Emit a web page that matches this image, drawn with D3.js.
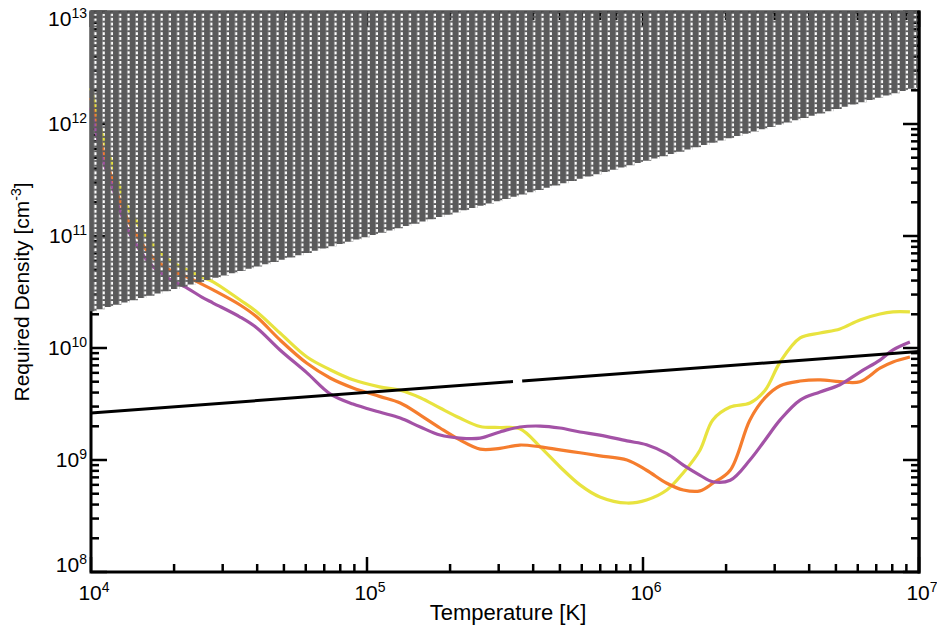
<!DOCTYPE html>
<html>
<head>
<meta charset="utf-8">
<script src="https://cdn.jsdelivr.net/npm/d3@7"></script>
<style>
  body { margin: 0; background: #fff; }
  text { font-family: "Liberation Sans", Arial, Helvetica, sans-serif; fill: #000; }
</style>
</head>
<body>
<svg id="chart"></svg>
<script>
// temperature grid shared by the three curves [K]
var temps = [1.0e4, 1.105e4, 1.19e4, 1.27e4, 1.36e4, 1.47e4, 1.57e4, 1.68e4, 1.81e4, 1.93e4,
  2.23e4, 2.52e4, 2.77e4, 3.47e4, 3.99e4, 4.84e4, 6.06e4, 7.35e4, 8.9e4, 1.11e5,
  1.32e5, 1.56e5, 1.84e5, 2.17e5, 2.57e5, 3.03e5, 3.58e5, 4.24e5, 5.0e5, 5.91e5,
  6.98e5, 8.75e5, 1.03e6, 1.22e6, 1.40e6, 1.61e6, 1.79e6, 2.07e6, 2.44e6, 2.77e6,
  3.14e6, 3.71e6, 4.38e6, 5.17e6, 6.11e6, 7.22e6, 8.05e6, 9.27e6];

// required density curves [cm^-3]
var yellowDensity = [2.09e12, 7.66e11, 4.49e11, 2.74e11, 1.78e11, 1.31e11, 1.02e11, 8.3e10, 6.9e10, 6.0e10,
  4.97e10, 4.3e10, 3.9e10, 2.68e10, 2.1e10, 1.36e10, 8.3e9, 6.4e9, 5.2e9, 4.5e9,
  4.2e9, 3.6e9, 2.91e9, 2.37e9, 1.99e9, 1.95e9, 1.9e9, 1.31e9, 8.7e8, 6.0e8,
  4.68e8, 4.13e8, 4.4e8, 5.4e8, 7.7e8, 1.23e9, 2.28e9, 2.97e9, 3.23e9, 4.2e9,
  7.5e9, 1.23e10, 1.36e10, 1.48e10, 1.78e10, 2.01e10, 2.1e10, 2.1e10];
var orangeDensity = [1.71e12, 5.86e11, 3.3e11, 2.1e11, 1.39e11, 1.0e11, 7.8e10, 6.4e10, 5.5e10, 4.97e10,
  4.3e10, 3.72e10, 3.3e10, 2.42e10, 1.89e10, 1.18e10, 7.3e9, 5.4e9, 4.4e9, 3.7e9,
  3.23e9, 2.52e9, 1.93e9, 1.51e9, 1.25e9, 1.27e9, 1.36e9, 1.31e9, 1.23e9, 1.16e9,
  1.09e9, 1.0e9, 8.1e8, 6.2e8, 5.4e8, 5.3e8, 6.2e8, 8.1e8, 2.28e9, 3.6e9,
  4.6e9, 5.07e9, 5.2e9, 5.0e9, 5.0e9, 6.6e9, 7.5e9, 8.3e9];
var purpleDensity = [1.39e12, 4.77e11, 2.85e11, 1.71e11, 1.13e11, 8.1e10, 6.4e10, 5.3e10, 4.6e10, 4.1e10,
  3.43e10, 2.85e10, 2.52e10, 1.89e10, 1.51e10, 9.6e9, 6.0e9, 3.9e9, 3.16e9, 2.68e9,
  2.37e9, 1.97e9, 1.67e9, 1.57e9, 1.57e9, 1.78e9, 1.97e9, 2.01e9, 1.93e9, 1.78e9,
  1.67e9, 1.48e9, 1.37e9, 1.14e9, 9.0e8, 7.3e8, 6.4e8, 6.6e8, 1.0e9, 1.51e9,
  2.28e9, 3.43e9, 4.05e9, 4.7e9, 6.1e9, 7.8e9, 9.6e9, 1.13e10];

// black reference line, drawn in two pieces (small gap near 3.5e5 K)
var refSegT = [[1e4, 3.38e5], [3.65e5, 1e7]];
var refSegN = [[2.63e9, 5.01e9], [5.08e9, 9.3e9]];

// excluded (hatched) region: from lower edge up to the top of the plot
var hatchT = [1e4, 1e7];
var hatchLow = [2.1e10, 2.14e12];
var hatchTop = 1e13;
var hatchColumns = 100;

var xTickMajor = [1e4, 1e5, 1e6, 1e7];
var yTickMajor = [1e8, 1e9, 1e10, 1e11, 1e12, 1e13];

var width = 937, height = 629;
var padL = 91, padR = 919, padT = 12, padB = 572;
var gray = "#5a5a5b";

var svg = d3.select("#chart").attr("width", width).attr("height", height);
svg.append("rect").attr("width", width).attr("height", height).attr("fill", "#fff");

var x = d3.scaleLog().domain([1e4, 1e7]).range([padL, padR]);
var y = d3.scaleLog().domain([1e8, 1e13]).range([padB, padT]);

function isMajor(v) { return Math.abs(Math.log10(v) - Math.round(Math.log10(v))) < 1e-6; }

// frame
var frame = svg.append("g").attr("stroke", "#000").attr("fill", "none");
frame.append("rect").attr("x", padL).attr("y", padT)
  .attr("width", padR - padL).attr("height", padB - padT).attr("stroke-width", 3);

// ticks, all pointing inward
x.ticks().forEach(function (t) {
  var len = isMajor(t) ? 15 : 8;
  frame.append("line").attr("x1", x(t)).attr("x2", x(t)).attr("y1", padB).attr("y2", padB - len).attr("stroke-width", 2.5);
  frame.append("line").attr("x1", x(t)).attr("x2", x(t)).attr("y1", padT).attr("y2", padT + len).attr("stroke-width", 2.5);
});
y.ticks().forEach(function (t) {
  var len = isMajor(t) ? 16 : 8;
  frame.append("line").attr("y1", y(t)).attr("y2", y(t)).attr("x1", padL).attr("x2", padL + len).attr("stroke-width", 2.5);
  frame.append("line").attr("y1", y(t)).attr("y2", y(t)).attr("x1", padR).attr("x2", padR - len).attr("stroke-width", 2.5);
});

// curves
var line = d3.line()
  .x(function (d) { return x(d[0]); })
  .y(function (d) { return y(d[1]); })
  .curve(d3.curveCatmullRom.alpha(0.5));

var series = [
  { vals: yellowDensity, color: "#e8e33f" },
  { vals: orangeDensity, color: "#f57d2e" },
  { vals: purpleDensity, color: "#a352a6" }
];
series.forEach(function (s) {
  svg.append("path")
    .datum(temps.map(function (t, i) { return [t, s.vals[i]]; }))
    .attr("d", line)
    .attr("fill", "none")
    .attr("stroke", s.color)
    .attr("stroke-width", 3.2)
    .attr("stroke-linejoin", "round");
});

refSegT.forEach(function (seg, i) {
  svg.append("path")
    .datum(seg.map(function (t, j) { return [t, refSegN[i][j]]; }))
    .attr("d", d3.line().x(function (d) { return x(d[0]); }).y(function (d) { return y(d[1]); }))
    .attr("fill", "none")
    .attr("stroke", "#000")
    .attr("stroke-width", 3);
});

// hatched region: columns of grey symbols with dotted white gaps,
// each column cut off where it meets the lower edge (stepped outline)
var pitch = (padR - padL) / hatchColumns;
var colStart = padL + 5.5;
var defs = svg.append("defs");
var pat = defs.append("pattern").attr("id", "hatch")
  .attr("patternUnits", "userSpaceOnUse")
  .attr("x", colStart).attr("y", padT + 1)
  .attr("width", pitch).attr("height", 4.8);
pat.append("rect").attr("width", pitch - 2.2).attr("height", 4.8).attr("fill", gray);
pat.append("rect").attr("x", pitch - 2.4).attr("y", 3).attr("width", 2.6).attr("height", 1.8).attr("fill", gray);

var edge = d3.scaleLinear()
  .domain([x(hatchT[0]), x(hatchT[1])])
  .range([y(hatchLow[0]), y(hatchLow[1])]);
var hatchRight = padR - 2;
var pts = [[padL - 1, y(hatchTop) - 1], [hatchRight, y(hatchTop) - 1]];
for (var k = hatchColumns; k >= -1; k--) {
  var a = Math.max(padL - 1, Math.min(hatchRight, colStart + k * pitch));
  var b = Math.max(padL - 1, Math.min(hatchRight, colStart + (k + 1) * pitch));
  if (b <= a) continue;
  var yb = edge((a + b) / 2);
  pts.push([b, yb], [a, yb]);
}
svg.append("path")
  .attr("d", "M" + pts.map(function (p) { return p[0].toFixed(2) + "," + p[1].toFixed(2); }).join("L") + "Z")
  .attr("fill", "url(#hatch)");

// right axis line stays on top
svg.append("line").attr("x1", padR).attr("x2", padR).attr("y1", padT - 1.5).attr("y2", padB + 1.5)
  .attr("stroke", "#000").attr("stroke-width", 3);

// tick labels
function powLabel(sel, e) {
  sel.append("tspan").text("10");
  sel.append("tspan").attr("font-size", 14).attr("dy", -8).text(e);
}
xTickMajor.forEach(function (t) {
  var txt = svg.append("text").attr("x", x(t) + 3).attr("y", 600)
    .attr("text-anchor", "middle").attr("font-size", 21);
  powLabel(txt, Math.round(Math.log10(t)));
});
yTickMajor.forEach(function (t) {
  var yy = Math.min(Math.max(y(t) + 7, padT + 14), padB);
  var txt = svg.append("text").attr("x", 87).attr("y", yy)
    .attr("text-anchor", "end").attr("font-size", 21);
  powLabel(txt, Math.round(Math.log10(t)));
});

// axis titles
svg.append("text").attr("x", (padL + padR) / 2 + 3).attr("y", 620)
  .attr("text-anchor", "middle").attr("font-size", 22).text("Temperature [K]");

var yt = svg.append("text")
  .attr("transform", "translate(29," + ((padT + padB) / 2) + ") rotate(-90)")
  .attr("text-anchor", "middle").attr("font-size", 21);
yt.append("tspan").text("Required Density [cm");
yt.append("tspan").attr("font-size", 14).attr("dy", -8).text("-3");
yt.append("tspan").attr("dy", 8).text("]");
</script>
</body>
</html>
